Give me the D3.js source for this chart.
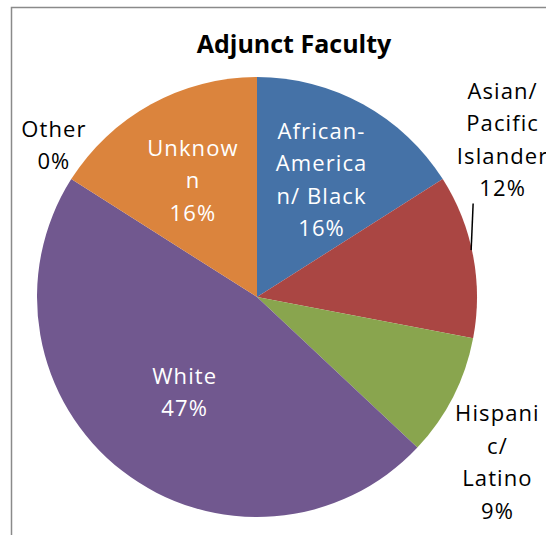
<!DOCTYPE html>
<html>
<head>
<meta charset="utf-8">
<script src="https://cdn.jsdelivr.net/npm/d3@7"></script>
<style>
  html, body { margin: 0; padding: 0; background: #fff; }
  svg { display: block; }
</style>
</head>
<body>
<div id="chart"></div>
<script>
/* ============================================= */
/* Data */
/* ============================================= */

const categories = ['African-American/ Black', 'Asian/ Pacific Islander', 'Hispanic/ Latino', 'White', 'Other', 'Unknown'];
const values = [16, 12, 9, 47, 0, 16];
// label text as it wraps in the original chart
const labelLines = [
    ['African-', 'America', 'n/ Black'],
    ['Asian/', 'Pacific', 'Islander'],
    ['Hispani', 'c/', 'Latino'],
    ['White'],
    ['Other'],
    ['Unknow', 'n']
];
const colors = ['#4572A7', '#AA4643', '#89A54E', '#71588F', '#3D96AE', '#DB843D'];

/* ============================================= */
/* Layout */
/* ============================================= */

const width = 546, height = 535;
const cx = 257, cy = 297, radius = 220;
const lineHeight = 32.5;

// label placement: radius along the slice middle, then a nudge
const labelPlace = [
    { r: 134, dx: 0, dy: 0, inside: true },
    { r: 247, dx: 3, dy: -111, inside: false, leader: true },
    { r: 262, dx: 7, dy: 46, inside: false },
    { r: 118, dx: 0, dy: 2, inside: true },
    { r: 250, dx: 8, dy: -18, inside: false },
    { r: 133, dx: 0, dy: 0, inside: true }
];

const svg = d3.select('#chart')
    .append('svg')
    .attr('width', width)
    .attr('height', height);

// chart frame
svg.append('rect')
    .attr('x', 11.5)
    .attr('y', 7.5)
    .attr('width', width)
    .attr('height', height)
    .attr('fill', 'none')
    .attr('stroke', '#8a8a8a')
    .attr('stroke-width', 1.5);

svg.append('text')
    .attr('x', 294)
    .attr('y', 53)
    .attr('text-anchor', 'middle')
    .style('font-family', '"Open Sans", sans-serif')
    .style('font-weight', 'bold')
    .style('font-size', '25px')
    .text('Adjunct Faculty');

const data = categories.map((c, i) => ({ name: c, value: values[i], idx: i }));

const pie = d3.pie().sort(null).value(d => d.value);
const arcs = pie(data);
const arc = d3.arc().innerRadius(0).outerRadius(radius);

const g = svg.append('g').attr('transform', `translate(${cx},${cy})`);

g.selectAll('path.slice')
    .data(arcs)
    .enter().append('path')
    .attr('class', 'slice')
    .attr('d', arc)
    .attr('fill', d => colors[d.data.idx]);

/* ============================================= */
/* Labels */
/* ============================================= */

arcs.forEach(a => {
    const i = a.data.idx;
    const p = labelPlace[i];
    const mid = (a.startAngle + a.endAngle) / 2;
    const x = Math.sin(mid) * p.r + p.dx;
    const y = -Math.cos(mid) * p.r + p.dy;
    const lines = labelLines[i].concat([d3.format('.0f')(a.data.value) + '%']);
    const first = y - (lines.length - 1) * lineHeight / 2 + 8;

    const t = g.append('text')
        .attr('text-anchor', 'middle')
        .style('font-family', '"Open Sans", sans-serif')
        .style('font-size', '22px')
        .style('letter-spacing', '1.1px')
        .attr('fill', p.inside ? '#fff' : '#000');

    lines.forEach((l, k) => {
        t.append('tspan')
            .attr('x', x)
            .attr('y', first + k * lineHeight)
            .text(l);
    });

    if (p.leader) {
        const ex = Math.sin(mid) * (radius - 2);
        const ey = -Math.cos(mid) * (radius - 2) - 6;
        const top = first + (lines.length - 1) * lineHeight + 7;
        g.append('line')
            .attr('x1', ex)
            .attr('y1', ey)
            .attr('x2', ex + 2)
            .attr('y2', top)
            .attr('stroke', '#000')
            .attr('stroke-width', 1.5);
    }
});
</script>
</body>
</html>
